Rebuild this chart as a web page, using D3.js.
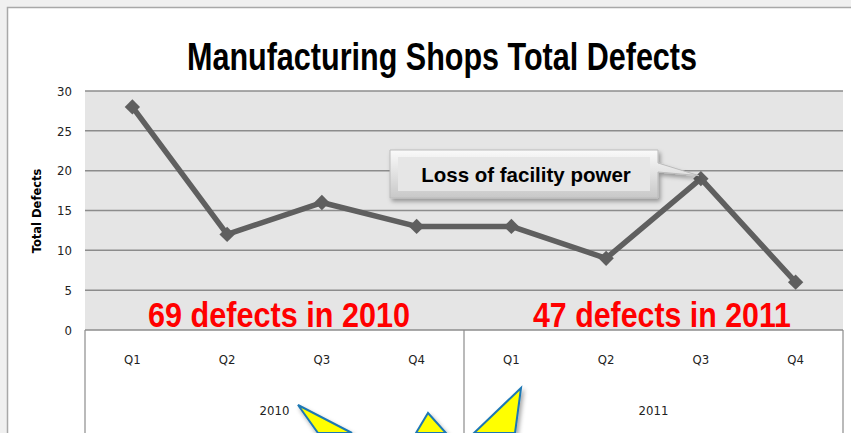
<!doctype html>
<html lang="en-US">
<head>
<meta charset="UTF-8">
<title>Manufacturing Shops Total Defects</title>
<script src="https://cdn.jsdelivr.net/npm/d3@7"></script>
<style>
  body { margin:0; background:#f0f0f0; }
  text { font-family: "Liberation Sans Narrow", "Arial Narrow", "Liberation Sans", sans-serif; }
</style>
</head>
<body>
<div id="viz"></div>
<script>
// data
var quarters = ["Q1","Q2","Q3","Q4","Q1","Q2","Q3","Q4"];
var years = ["2010","2011"];
var defects = [28, 12, 16, 13, 13, 9, 19, 6];
var yTicks = [0, 5, 10, 15, 20, 25, 30];

var W = 851, H = 433;
var pLeft = 85, pRight = 843, pTop = 91, pBottom = 330;
var tickFont = '"DejaVu Sans Condensed", "Liberation Sans Narrow", sans-serif';

var svg = d3.select('#viz').append('svg').attr('width', W).attr('height', H);

// page frame
svg.append('rect').attr('x', 7.5).attr('y', 7.5).attr('width', W).attr('height', H)
  .attr('fill', 'white').attr('stroke', '#a8a8a8').attr('stroke-width', 1.5);

var x = d3.scaleBand().domain(d3.range(defects.length)).range([pLeft, pRight]);
var y = d3.scaleLinear().domain([0, 30]).range([pBottom, pTop]);

// plot background
svg.append('rect').attr('x', pLeft).attr('y', pTop).attr('width', pRight - pLeft).attr('height', pBottom - pTop)
  .attr('fill', '#e5e5e5');

// gridlines
svg.append('g').selectAll('line').data(yTicks).enter().append('line')
  .attr('x1', pLeft).attr('x2', pRight)
  .attr('y1', function(d) { return y(d); }).attr('y2', function(d) { return y(d); })
  .attr('stroke', '#8c8c8c').attr('stroke-width', 1.5);

// y axis labels
var yAxis = d3.axisLeft(y).tickValues(yTicks).tickSize(0).tickPadding(13);
var ya = svg.append('g').attr('transform', 'translate(' + pLeft + ',0)').call(yAxis);
ya.select('.domain').remove();
ya.selectAll('text').style('font-family', tickFont).style('font-size', '13px').attr('fill', '#222');

svg.append('text').attr('transform', 'translate(41,211) rotate(-90)')
  .attr('text-anchor', 'middle').style('font-family', '"DejaVu Sans", sans-serif')
  .style('font-weight', 'bold').style('font-size', '11.5px').text('Total Defects');

// category axis area
svg.append('g').selectAll('line').data([pLeft, (pLeft + pRight) / 2, pRight]).enter().append('line')
  .attr('x1', function(d) { return d; }).attr('x2', function(d) { return d; })
  .attr('y1', pBottom).attr('y2', H)
  .attr('stroke', '#8c8c8c').attr('stroke-width', 1.2);

var xAxis = d3.axisBottom(x).tickFormat(function(i) { return quarters[i]; }).tickSize(0).tickPadding(25);
var xa = svg.append('g').attr('transform', 'translate(0,' + pBottom + ')').call(xAxis);
xa.select('.domain').remove();
xa.selectAll('text').style('font-family', tickFont).style('font-size', '13px').attr('fill', '#222');

svg.append('g').selectAll('text').data(years).enter().append('text')
  .attr('x', function(d, i) { return (x(i * 4) + x(i * 4 + 3) + x.bandwidth()) / 2; })
  .attr('y', 415).attr('text-anchor', 'middle')
  .style('font-family', tickFont).style('font-size', '13px').attr('fill', '#222')
  .text(function(d) { return d; });

// red annotations
var notes = [{t: '69 defects in 2010', x: 148, w: 262}, {t: '47 defects in 2011', x: 533, w: 258}];
svg.append('g').selectAll('text').data(notes).enter().append('text')
  .attr('x', function(d) { return d.x; }).attr('y', 327)
  .attr('textLength', function(d) { return d.w; }).attr('lengthAdjust', 'spacingAndGlyphs')
  .attr('fill', '#ff0000').style('font-weight', 'bold').style('font-size', '35px')
  .text(function(d) { return d.t; });

// series line
var line = d3.line().x(function(d, i) { return x(i) + x.bandwidth() / 2; }).y(function(d) { return y(d); });
svg.append('path').datum(defects).attr('d', line)
  .attr('fill', 'none').attr('stroke', '#5f5f5f').attr('stroke-width', 5.5).attr('stroke-linejoin', 'round');

svg.append('g').selectAll('path').data(defects).enter().append('path')
  .attr('d', d3.symbol().type(d3.symbolDiamond2).size(150))
  .attr('transform', function(d, i) { return 'translate(' + (x(i) + x.bandwidth() / 2) + ',' + y(d) + ')'; })
  .attr('fill', '#5f5f5f');

// title
svg.append('text').attr('x', 187).attr('y', 70).attr('textLength', 510).attr('lengthAdjust', 'spacingAndGlyphs')
  .style('font-weight', 'bold').style('font-size', '38px').attr('fill', '#000')
  .text('Manufacturing Shops Total Defects');

// callout
var defs = svg.append('defs');
var g1 = defs.append('linearGradient').attr('id', 'bev').attr('x1', 0).attr('y1', 0).attr('x2', 0).attr('y2', 1);
g1.append('stop').attr('offset', '0%').attr('stop-color', '#fafafa');
g1.append('stop').attr('offset', '100%').attr('stop-color', '#c8c8c8');
var fl = defs.append('filter').attr('id', 'sh').attr('x', '-10%').attr('y', '-20%').attr('width', '130%').attr('height', '160%');
fl.append('feDropShadow').attr('dx', 2).attr('dy', 3).attr('stdDeviation', 2).attr('flood-color', '#000').attr('flood-opacity', 0.35);

var cx = x(6) + x.bandwidth() / 2, cy = y(defects[6]);
var cg = svg.append('g').attr('filter', 'url(#sh)');
cg.append('path')
  .attr('d', 'M390,150 L658,150 L658,163 L' + (cx - 2) + ',' + (cy - 3) + ' L658,172 L658,198 L390,198 Z')
  .attr('fill', 'url(#bev)').attr('stroke', '#bbb').attr('stroke-width', 1);
cg.append('rect').attr('x', 398).attr('y', 157).attr('width', 252).attr('height', 34).attr('fill', '#e6e6e6');
svg.append('text').attr('x', 526).attr('y', 182).attr('text-anchor', 'middle')
  .style('font-family', '"Liberation Sans", Arial, sans-serif').style('font-weight', 'bold').style('font-size', '20.5px')
  .text('Loss of facility power');

// yellow arrows at bottom
var arrows = [
  [[298, 405], [352, 433], [318, 433]],
  [[428, 413], [446, 433], [416, 433]],
  [[521, 388], [515, 433], [474, 433]]
];
svg.append('g').attr('filter', 'url(#sh)').selectAll('path').data(arrows).enter().append('path')
  .attr('d', function(d) { return 'M' + d.join('L') + 'Z'; })
  .attr('fill', '#ffff00').attr('stroke', '#1f78b4').attr('stroke-width', 2);
</script>
</body>
</html>
